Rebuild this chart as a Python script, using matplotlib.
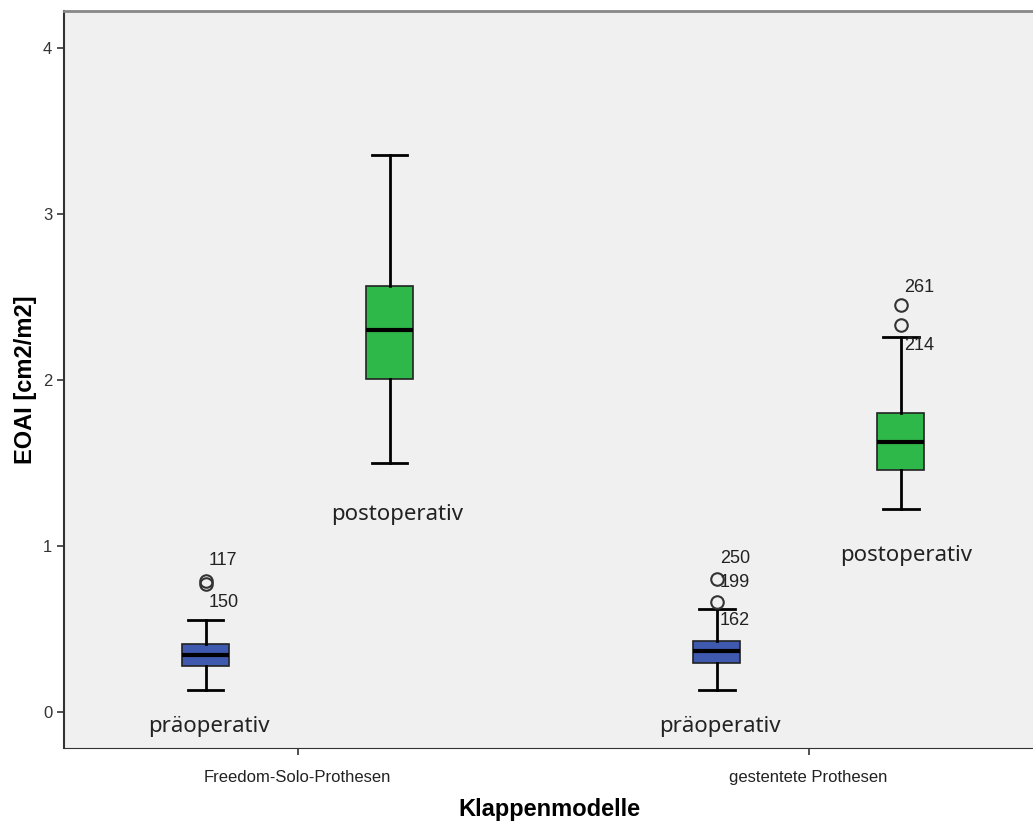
import matplotlib.pyplot as plt

plt.rcParams['font.family'] = ['Liberation Sans', 'DejaVu Sans']

# box statistics (EOAI in cm2/m2)
groups = ["Freedom-Solo-Prothesen", "gestentete Prothesen"]
phases = ["präoperativ", "postoperativ"]

whislo = [0.13, 1.50, 0.13, 1.22]
q1 = [0.277, 2.006, 0.295, 1.458]
med = [0.343, 2.30, 0.367, 1.627]
q3 = [0.41, 2.566, 0.428, 1.80]
whishi = [0.554, 3.355, 0.62, 2.26]
fliers = [[0.79, 0.77], [], [0.80, 0.663], [2.452, 2.33]]

outlier_ids = ["117", "150", "250", "199", "162", "261", "214"]
outlier_box = [0, 0, 2, 2, 2, 3, 3]
outlier_y = [0.91, 0.66, 0.925, 0.78, 0.55, 2.56, 2.21]

positions = [-0.18, 0.18, 0.82, 1.18]
colors = ["#3F59AE", "#2FB84A", "#3F59AE", "#2FB84A"]
phase_label_y = [-0.09, 1.19, -0.09, 0.94]
phase_label_dx = [0.006, 0.014, 0.006, 0.01]

fig = plt.figure(figsize=(10.33, 8.26), dpi=100)
ax = fig.add_axes([0.062, 0.0944, 0.94, 0.8923])
ax.set_facecolor("#F0F0F0")

stats = []
for i in range(4):
    stats.append(dict(whislo=whislo[i], q1=q1[i], med=med[i], q3=q3[i],
                      whishi=whishi[i], fliers=fliers[i]))

bp = ax.bxp(stats, positions=positions, widths=0.093, patch_artist=True,
            boxprops=dict(edgecolor="#222222", linewidth=1.2),
            medianprops=dict(color="black", linewidth=3),
            whiskerprops=dict(color="black", linewidth=2),
            capprops=dict(color="black", linewidth=2),
            capwidths=0.07,
            flierprops=dict(marker="o", markerfacecolor="none",
                            markeredgecolor="#333333", markersize=9,
                            markeredgewidth=1.5))
for patch, c in zip(bp["boxes"], colors):
    patch.set_facecolor(c)

for i in range(4):
    ax.text(positions[i] + phase_label_dx[i], phase_label_y[i], phases[i % 2],
            ha="center", va="center", fontsize=16, color="#222222",
            family=["Noto Sans", "DejaVu Sans"])

for lab, b, y in zip(outlier_ids, outlier_box, outlier_y):
    ax.text(positions[b] + 0.006, y, lab, ha="left", va="center",
            fontsize=13, color="#222222")

ax.set_xlim(-0.457, 1.443)
ax.set_ylim(-0.217, 4.223)
ax.set_xticks([0, 1])
ax.set_xticklabels(groups, fontsize=11.2)
ax.set_yticks([0, 1, 2, 3, 4])
ax.tick_params(axis="both", direction="out", length=5, width=1.2,
               colors="#333333", labelsize=12)
ax.tick_params(axis="x", labelcolor="#222222", pad=11)

ax.set_ylabel("EOAI [cm2/m2]", fontsize=17, fontweight="bold", labelpad=4)
ax.set_xlabel("Klappenmodelle", fontsize=17, fontweight="bold", labelpad=9)

ax.spines["right"].set_visible(False)
ax.spines["top"].set_color("#888888")
ax.spines["top"].set_linewidth(2)
ax.spines["left"].set_color("#333333")
ax.spines["left"].set_linewidth(1.5)
ax.spines["bottom"].set_color("#333333")

fig.savefig("out.png", dpi=100)
